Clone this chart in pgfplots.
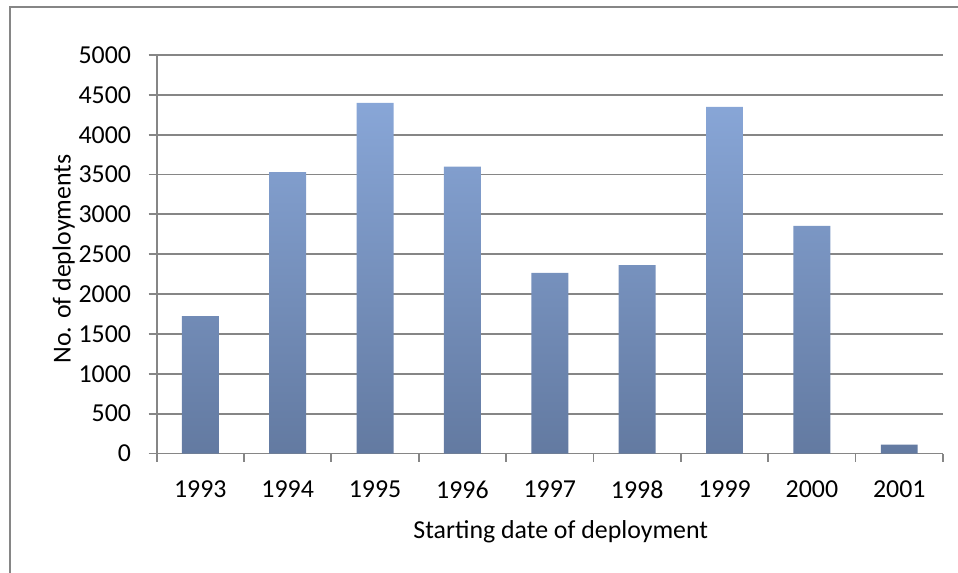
\documentclass[border=0pt]{standalone}
\usepackage{fontspec}
\setmainfont{Carlito}
\usepackage{pgfplots}
\pgfplotsset{compat=1.18}
\definecolor{bartop}{HTML}{88A6D7}
\definecolor{barbot}{HTML}{637AA1}
\definecolor{gridc}{HTML}{868686}
\begin{document}
\begin{tikzpicture}
\newcommand\lblfont{\fontsize{19.4}{23}\selectfont}
\begin{axis}[
  at={(117.5pt,89.6pt)}, anchor=south west,
  scale only axis, width=589.7pt, height=298.9pt,
  xmin=0.5, xmax=9.5, ymin=0, ymax=5000,
  axis x line=bottom, axis y line=left,
  axis line style={-, draw=gridc, line width=1.4pt},
  xtick={0.5,1.5,...,9.5},
  x tick label as interval,
  xticklabels={1993,1994,1995,1996,1997,1998,1999,2000,2001},
  ytick={0,500,...,5000},
  ymajorgrids, grid style={draw=gridc, line width=1.4pt},
  tick align=outside, major tick length=6pt,
  tick style={draw=gridc, line width=1.4pt},
  /pgf/number format/1000 sep={},
  /pgf/number format/assume math mode=true,
  tick label style={font=\lblfont, text=black},
  yticklabel style={inner sep=0pt, anchor=east, xshift=-13pt},
  xticklabel style={inner sep=0pt, anchor=north, yshift=-14.5pt},
  xlabel={Starting date of deployment},
  ylabel={No. of deployments},
  label style={font=\lblfont},
  xlabel style={at={(axis description cs:0.514,-0.2121)}, anchor=base, inner sep=0pt},
  ylabel style={at={(axis description cs:-0.1094,0.488)}, anchor=base, inner sep=0pt},
  bar width=0.423,
  clip=false,
]
\addplot[ybar, draw=none, top color=bartop, bottom color=barbot] coordinates {
(1,1725) (2,3530) (3,4400) (4,3600) (5,2265) (6,2365) (7,4350) (8,2855) (9,113)
};
\end{axis}
\draw[gridc, line width=1.4pt] (7.5pt,0pt) -- (7.5pt,424.5pt) -- (718.5pt,424.5pt);
\pgfresetboundingbox
\useasboundingbox (0pt,0pt) rectangle (718.5pt,429.75pt);
\end{tikzpicture}
\end{document}
